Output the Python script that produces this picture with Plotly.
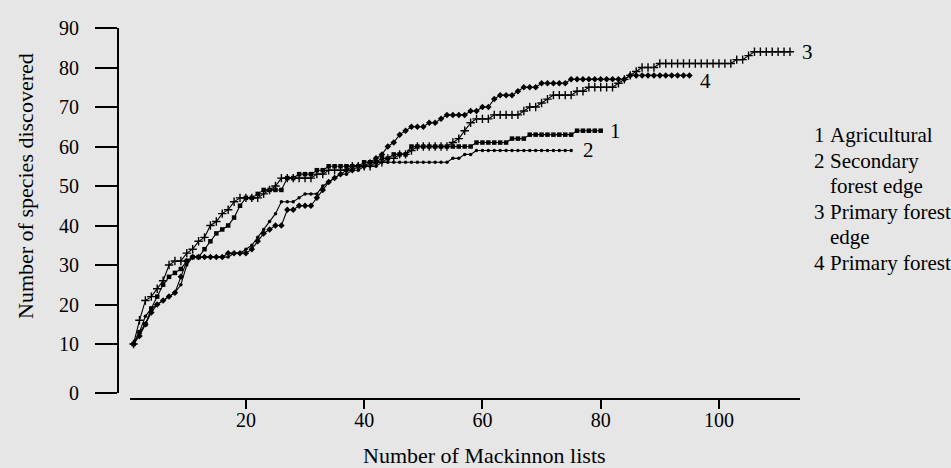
import plotly.graph_objects as go

# ---- data (cumulative species vs. number of Mackinnon lists) ----
agricultural = [10,13,15,19,22,25,27,28,29,31, 32,32,34,36,38,39,40,42,45,47,
                47,48,49,49,49,49,52,52,53,53, 53,54,54,55,55,55,55,55,55,56,
                56,56,57,57,58,58,58,60,60,60, 60,60,60,60,60,60,60,60,61,61,
                61,61,61,61,62,62,62,63,63,63, 63,63,63,63,63,64,64,64,64,64]
secondary_edge = [10,13,17,19,20,21,22,23,25,30, 32,32,32,32,32,32,32,33,33,34,
                  35,37,39,41,43,46,46,46,47,48, 48,48,50,51,52,53,53,54,54,55,
                  55,55,56,56,56,56,56,56,56,56, 56,56,56,56,57,57,58,58,59,59,
                  59,59,59,59,59,59,59,59,59,59, 59,59,59,59,59]
primary_edge = [10,16,21,22,24,26,30,31,31,33, 34,36,37,40,41,43,44,46,47,47,
                47,47,48,49,50,52,52,52,52,52, 52,53,53,54,54,54,54,55,55,55,
                55,56,56,57,57,58,58,59,60,60, 60,60,60,60,61,62,64,66,67,67,
                67,68,68,68,68,68,69,70,70,71, 72,73,73,73,73,74,74,75,75,75,
                75,75,76,77,78,79,80,80,80,81, 81,81,81,81,81,81,81,81,81,81,
                81,81,82,82,83,84,84,84,84,84, 84,84]
primary_forest = [10,12,15,18,20,21,22,23,27,31, 32,32,32,32,32,32,33,33,33,33,
                  34,36,38,39,40,40,44,44,45,45, 45,47,49,51,52,53,54,54,55,55,
                  56,57,58,60,61,63,64,65,65,65, 66,66,67,68,68,68,68,69,69,70,
                  70,72,73,73,73,74,75,75,75,76, 76,76,76,76,77,77,77,77,77,77,
                  77,77,77,77,78,78,78,78,78,78, 78,78,78,78,78]

series = [
    ("1", agricultural, "square", 4.5),
    ("2", secondary_edge, "circle", 3.5),
    ("3", primary_edge, "cross-thin", 6),
    ("4", primary_forest, "diamond", 5),
]
label_shift = {"1": (15, 0), "2": (17, 0), "3": (18, 0), "4": (16, -6)}

y_tickvals = [-2.33, 10, 20, 30, 40, 50, 60, 70, 80, 90]
y_ticktext = ["0", "10", "20", "30", "40", "50", "60", "70", "80", "90"]
x_tickvals = [20, 40, 60, 80, 100]

legend_lines = [("1", "Agricultural"), ("2", "Secondary"), ("", "forest edge"),
                ("3", "Primary forest"), ("", "edge"), ("4", "Primary forest")]

FONT = "Liberation Serif"
W, H = 951, 468
L, R, T, B = 118, 151, 28, 69
PW, PH = W - L - R, H - T - B

def px(xp):
    return (xp - L) / PW

def py(yp):
    return (H - B - yp) / PH

fig = go.Figure()
for name, vals, sym, size in series:
    xs = list(range(1, len(vals) + 1))
    fig.add_trace(go.Scatter(
        x=xs, y=vals, mode="lines+markers",
        line=dict(color="black", width=1.1),
        marker=dict(symbol=sym, size=size, color="black",
                    line=dict(color="black", width=1.4 if sym == "cross-thin" else 0)),
        showlegend=False, cliponaxis=False))
    dx, dy = label_shift[name]
    fig.add_annotation(x=xs[-1], y=vals[-1], text=name, showarrow=False,
                       xshift=dx, yshift=dy, xanchor="center", yanchor="middle",
                       font=dict(family=FONT, size=21, color="black"))

# legend text
ys = [135, 161, 186, 212, 237, 263]
for (num, txt), yy in zip(legend_lines, ys):
    if num:
        fig.add_annotation(xref="paper", yref="paper", x=px(812), y=py(yy), text=num,
                           showarrow=False, xanchor="left", yanchor="middle",
                           font=dict(family=FONT, size=21, color="black"))
    fig.add_annotation(xref="paper", yref="paper", x=px(828), y=py(yy), text=txt,
                       showarrow=False, xanchor="left", yanchor="middle",
                       font=dict(family=FONT, size=21, color="black"))

# axis titles
fig.add_annotation(xref="paper", yref="paper", x=px(25), y=py(186),
                   text="Number of species discovered", textangle=-90,
                   showarrow=False, xanchor="center", yanchor="middle",
                   font=dict(family=FONT, size=22, color="black"))
fig.add_annotation(xref="paper", yref="paper", x=px(484), y=py(455),
                   text="Number of Mackinnon lists",
                   showarrow=False, xanchor="center", yanchor="middle",
                   font=dict(family=FONT, size=22, color="black"))

fig.update_layout(
    width=W, height=H, margin=dict(l=L, r=R, t=T, b=B, pad=0),
    paper_bgcolor="#e6e6e6", plot_bgcolor="#e6e6e6",
    font=dict(family=FONT, color="black", size=20),
    xaxis=dict(domain=[(130 - L) / PW, 1], range=[0.4, 113.7], anchor="free", position=0,
               showline=True, linecolor="black", linewidth=2, showgrid=False, zeroline=False,
               ticks="outside", ticklen=9, tickwidth=2, tickcolor="black",
               tickvals=x_tickvals, ticklabelstandoff=-6,
               tickfont=dict(family=FONT, size=20)),
    yaxis=dict(domain=[(399 - 392.7) / PH, 1], range=[-2.33, 90], anchor="free", position=0,
               showline=True, linecolor="black", linewidth=2, showgrid=False, zeroline=False,
               ticks="outside", ticklen=22, tickwidth=2, tickcolor="black",
               tickvals=y_tickvals, ticktext=y_ticktext, ticklabelstandoff=12,
               tickfont=dict(family=FONT, size=20)),
)

fig.write_html("out.html")
